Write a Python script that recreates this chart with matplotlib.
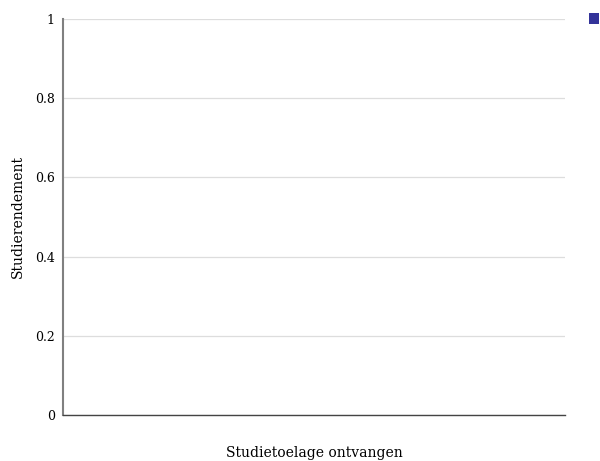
import matplotlib
matplotlib.use("Agg")
import matplotlib.pyplot as plt

# Series data (no observations recorded)
categories = []
rendement = []
series_name = ""
y_ticks = [0, 0.2, 0.4, 0.6, 0.8, 1]
y_tick_labels = ["0", "0.2", "0.4", "0.6", "0.8", "1"]

plt.rcParams["font.family"] = ["DejaVu Serif"]

fig = plt.figure(figsize=(6.0, 4.61), dpi=100)
ax = fig.add_axes([63 / 600, 1 - 415 / 461, (565 - 63) / 600, (415 - 19) / 461])

bar_color = "#333399"
ax.bar(categories, rendement, color=bar_color)

ax.set_ylim(0, 1)
ax.set_xlim(0, 1)
ax.set_yticks(y_ticks)
ax.set_yticklabels(y_tick_labels, fontsize=9)
ax.set_xticks([])
ax.tick_params(axis="y", length=0, pad=6)
ax.yaxis.grid(True, color="#dddddd", linewidth=0.9)
ax.set_axisbelow(True)

for side in ("top", "right"):
    ax.spines[side].set_visible(False)
ax.spines["left"].set_color("#808080")
ax.spines["left"].set_linewidth(1.5)
ax.spines["bottom"].set_color("#444444")
ax.spines["bottom"].set_linewidth(1.0)

ax.set_ylabel("Studierendement", fontsize=10, labelpad=7)
ax.set_xlabel("Studietoelage ontvangen", fontsize=10, labelpad=22)

# Legend marker in the top-right corner
leg_ax = fig.add_axes([589 / 600, 1 - 24 / 461, 10 / 600, 11 / 461])
leg_ax.add_patch(plt.Rectangle((0, 0), 1, 1, color=bar_color, label=series_name))
leg_ax.set_xlim(0, 1)
leg_ax.set_ylim(0, 1)
leg_ax.axis("off")

fig.savefig("out.png", dpi=100)
